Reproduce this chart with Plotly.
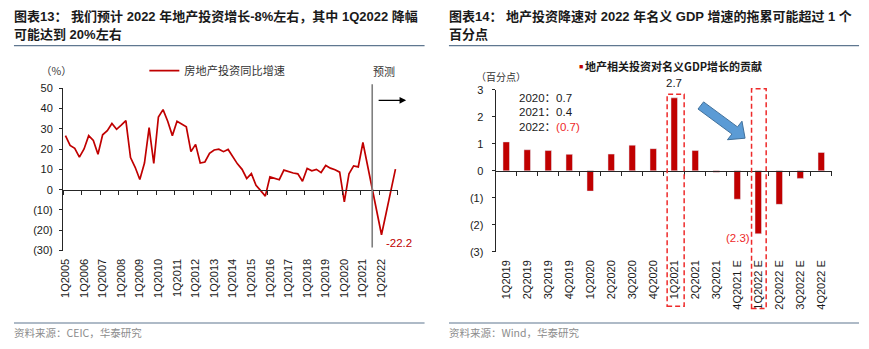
import plotly.graph_objects as go

W, H = 869, 349


def px(x):
    return x / W


def py(y):
    return 1 - y / H


# ---------------- data: left chart (quarterly real-estate investment YoY, %) ----------------
years = list(range(2005, 2023))
quarters = [f"{q}Q{y}" for y in years for q in range(1, 5)]
growth = [
    26.6, 21.8, 20.3, 16.0,   # 2005
    20.0, 26.6, 24.2, 17.4,   # 2006
    27.0, 29.0, 32.6, 29.7,   # 2007
    31.8, 34.0, 15.8, 11.0,   # 2008
    5.0, 13.1, 30.5, 12.9,    # 2009
    35.8, 39.4, 33.7, 26.6,   # 2010
    33.7, 32.1, 30.9, 18.7,   # 2011
    22.3, 13.1, 13.6, 17.9,   # 2012
    19.5, 19.9, 18.7, 19.8,   # 2013
    16.3, 12.7, 10.0, 5.5,    # 2014
    7.9, 2.1, -0.5, -3.2,     # 2015
    6.3, 5.6, 4.9, 9.6,       # 2016
    8.8, 8.2, 7.8, 4.1,       # 2017
    10.4, 9.3, 10.0, 8.4,     # 2018
    11.9, 10.6, 9.8, 8.6,     # 2019
    -6.0, 7.8, 11.7, 11.2,    # 2020
    23.2, 11.9, 0.4, -10.9,   # 2021
    -22.2, -11.5, -0.7, 10.1, # 2022
]
year_tick_labels = [f"1Q{y}" for y in years]
left_ytick_vals = [-30, -20, -10, 0, 10, 20, 30, 40, 50]
left_ytick_text = ["(30)", "(20)", "(10)", "0", "10", "20", "30", "40", "50"]
forecast_boundary = "3Q2021"
trough_quarter = "1Q2022"
series_name = "房地产投资同比增速"

# ---------------- data: right chart (contribution to nominal GDP growth, ppt) ----------------
bar_quarters = [
    "1Q2019", "2Q2019", "3Q2019", "4Q2019",
    "1Q2020", "2Q2020", "3Q2020", "4Q2020",
    "1Q2021", "2Q2021", "3Q2021", "4Q2021 E",
    "1Q2022 E", "2Q2022 E", "3Q2022 E", "4Q2022 E",
]
contribution = [1.07, 0.78, 0.75, 0.61, -0.75, 0.62, 0.95, 0.82,
                2.70, 0.75, -0.05, -1.05, -2.33, -1.24, -0.28, 0.68]
right_ytick_vals = [-3, -2, -1, 0, 1, 2, 3]
right_ytick_text = ["(3)", "(2)", "(1)", "0", "1", "2", "3"]
annual_years = ["2020", "2021", "2022"]
annual_values = ["0.7", "0.4", "(0.7)"]
peak_bar = "1Q2021"
low_bar = "1Q2022 E"
bar_name = "地产相关投资对名义GDP增长的贡献"

# ---------------- styles ----------------
LAT = "Liberation Sans, Arial, Noto Sans CJK SC, sans-serif"
CJK = "Noto Sans CJK SC, Liberation Sans, sans-serif"
DARK_RED = "#C00000"
BRIGHT_RED = "#EE2A2A"
AXIS_COL = "#262626"
TXT = "#1a1a1a"
SEP = "#5f7790"

# domains (pixel-based)
L_X0, L_X1 = 59.4, 395.6
L_YT, L_YB = 85.0, 253.3
R_X0, R_X1 = 494.0, 831.6
R_YT, R_YB = 86.7, 254.7

l_dom_y = [py(L_YB), py(L_YT)]
r_dom_y = [py(R_YB), py(R_YT)]
l_zero = l_dom_y[0] + (0 - (-30)) / 80 * (l_dom_y[1] - l_dom_y[0])
r_zero = r_dom_y[0] + (0 - (-3)) / 6 * (r_dom_y[1] - r_dom_y[0])

fig = go.Figure()

fig.add_trace(go.Scatter(
    x=quarters, y=growth, mode="lines", name=series_name,
    line=dict(color=DARK_RED, width=1.7), xaxis="x", yaxis="y",
    showlegend=True, hoverinfo="skip"))
fig.add_trace(go.Bar(
    x=bar_quarters, y=contribution, name=bar_name, marker_color=DARK_RED,
    width=0.31, xaxis="x2", yaxis="y2", showlegend=False, hoverinfo="skip"))
# empty traces so the zero-line tick axes get drawn
fig.add_trace(go.Scatter(x=[], y=[], xaxis="x3", yaxis="y", showlegend=False))
fig.add_trace(go.Scatter(x=[], y=[], xaxis="x4", yaxis="y2", showlegend=False))

tickfont = dict(family=LAT, size=11, color=TXT)

fig.update_layout(
    width=W, height=H, margin=dict(l=0, r=0, t=0, b=0),
    paper_bgcolor="white", plot_bgcolor="rgba(0,0,0,0)",
    showlegend=True,
    legend=dict(x=px(141), y=py(67), xanchor="left", yanchor="middle",
                font=dict(family=CJK, size=11.2, color="#333333"),
                bgcolor="rgba(0,0,0,0)", borderwidth=0, itemwidth=30),
    xaxis=dict(domain=[px(L_X0), px(L_X1)], anchor="y", type="category",
               categoryarray=quarters, range=[-0.5, len(quarters) - 0.5],
               tickmode="array", tickvals=year_tick_labels, ticktext=year_tick_labels,
               tickangle=-90, ticks="", showline=False, showgrid=False, zeroline=False,
               tickfont=tickfont, ticklabelstandoff=5),
    xaxis3=dict(overlaying="x", anchor="free", position=l_zero, type="linear",
                range=[-0.5, len(quarters) - 0.5],
                tickmode="array", tickvals=[-0.5 + 4 * k for k in range(len(years) + 1)],
                ticks="outside", ticklen=4, tickwidth=1, tickcolor=AXIS_COL,
                showticklabels=False, showline=True, linecolor=AXIS_COL, linewidth=1.3,
                showgrid=False, zeroline=False),
    yaxis=dict(domain=l_dom_y, anchor="x", range=[-30, 50],
               tickmode="array", tickvals=left_ytick_vals, ticktext=left_ytick_text,
               ticks="outside", ticklen=3, tickwidth=1, tickcolor=AXIS_COL,
               showline=True, linecolor=AXIS_COL, linewidth=1.3,
               showgrid=False, zeroline=False, tickfont=tickfont, ticklabelstandoff=4),
    xaxis2=dict(domain=[px(R_X0), px(R_X1)], anchor="y2", type="category",
                categoryarray=bar_quarters, range=[-0.5, len(bar_quarters) - 0.5],
                tickangle=-90, ticks="", showline=False, showgrid=False, zeroline=False,
                tickfont=tickfont, ticklabelstandoff=5),
    xaxis4=dict(overlaying="x2", anchor="free", position=r_zero, type="linear",
                range=[-0.5, len(bar_quarters) - 0.5],
                tickmode="array", tickvals=[-0.5 + k for k in range(len(bar_quarters) + 1)],
                ticks="outside", ticklen=4, tickwidth=1, tickcolor=AXIS_COL,
                showticklabels=False, showline=True, linecolor=AXIS_COL, linewidth=1.3,
                showgrid=False, zeroline=False),
    yaxis2=dict(domain=r_dom_y, anchor="x2", range=[-3, 3],
                tickmode="array", tickvals=right_ytick_vals, ticktext=right_ytick_text,
                ticks="outside", ticklen=3, tickwidth=1, tickcolor=AXIS_COL,
                showline=True, linecolor=AXIS_COL, linewidth=1.3,
                showgrid=False, zeroline=False, tickfont=tickfont, ticklabelstandoff=6),
)

ann = []
title_font = dict(family=LAT, size=13, color=TXT, weight="bold")


def add_text(text, x, y, font, xanchor="left", yanchor="middle"):
    ann.append(dict(text=text, x=px(x), y=py(y), xref="paper", yref="paper",
                    xanchor=xanchor, yanchor=yanchor, showarrow=False, font=font))


add_text("<b>图表13： 我们预计 2022 年地产投资增长-8%左右，其中 1Q2022 降幅</b>", 8, 11, title_font)
add_text("<b>可能达到 20%左右</b>", 8, 29.5, title_font)
add_text("<b>图表14： 地产投资降速对 2022 年名义 GDP 增速的拖累可能超过 1 个</b>", 445, 11, title_font)
add_text("<b>百分点</b>", 445, 29.5, title_font)

small_cjk = dict(family=CJK, size=10.5, color="#333333")
add_text("（%）", 35, 67, small_cjk)
add_text("预测", 369, 67, dict(family=CJK, size=11, color="#333333"))
add_text("（百分点）", 472, 72.7, dict(family=CJK, size=10, color="#333333"))

src_font = dict(family=CJK, size=10.5, color="#8c8c8c")
add_text("资料来源：CEIC，华泰研究", 8, 338, src_font)
add_text("资料来源：Wind，华泰研究", 445, 338, src_font)

# right legend (symbol + label)
add_text("■", 575.5, 62.5, dict(family=LAT, size=7, color=DARK_RED))
add_text(f"<b>{bar_name}</b>", 582, 62.5, dict(family=CJK, size=11, color=TXT, weight="bold"))

# annual notes
note_font = dict(family=LAT, size=11.5, color=TXT)
for i, (yr, val) in enumerate(zip(annual_years, annual_values)):
    col = BRIGHT_RED if val.startswith("(") else TXT
    add_text(f"{yr}：<span style='color:{col}'>{val}</span>", 515.5, 95 + 15 * i, note_font)

# forecast arrow (left)
ann.append(dict(text="", x=px(404), y=py(97.7), xref="paper", yref="paper",
                ax=-29, ay=0, showarrow=True, arrowhead=2, arrowsize=1.1,
                arrowwidth=1.2, arrowcolor="#000000"))

# trough label on the line
trough_val = growth[quarters.index(trough_quarter)]
ann.append(dict(text=f"{trough_val:.1f}", x=trough_quarter, y=trough_val, xref="x", yref="y",
                xanchor="left", yanchor="middle", xshift=2, yshift=-8, showarrow=False,
                font=dict(family=LAT, size=11.5, color=DARK_RED)))

# bar labels
peak_val = contribution[bar_quarters.index(peak_bar)]
ann.append(dict(text=f"{peak_val:.1f}", x=peak_bar, y=peak_val, xref="x2", yref="y2",
                xanchor="center", yanchor="bottom", yshift=7, showarrow=False,
                font=dict(family=LAT, size=11.5, color=TXT)))
low_val = contribution[bar_quarters.index(low_bar)]
ann.append(dict(text=f"({abs(low_val):.1f})", x=low_bar, y=low_val, xref="x2", yref="y2",
                xanchor="center", yanchor="middle", xshift=-20.5, yshift=-4, showarrow=False,
                font=dict(family=LAT, size=11.5, color=BRIGHT_RED)))

fig.update_layout(annotations=ann)

shapes = []
# separators
for x0, x1 in [(10, 422.5), (447, 859)]:
    shapes.append(dict(type="line", xref="paper", yref="paper", x0=px(x0), x1=px(x1),
                       y0=py(41), y1=py(41), line=dict(color=SEP, width=1.2)))
    shapes.append(dict(type="line", xref="paper", yref="paper", x0=px(x0), x1=px(x1),
                       y0=py(328.3), y1=py(328.3), line=dict(color=SEP, width=1.2)))

# forecast boundary line
shapes.append(dict(type="line", xref="x", yref="paper", x0=forecast_boundary, x1=forecast_boundary,
                   y0=py(250), y1=py(81), line=dict(color="#7f7f7f", width=1.6)))

# dashed highlight boxes
for (x0, x1, y0, y1) in [(666.2, 683.3, 91.5, 311.0), (751.0, 765.7, 85.7, 313.3)]:
    shapes.append(dict(type="rect", xref="paper", yref="paper", x0=px(x0), x1=px(x1),
                       y0=py(y1), y1=py(y0), line=dict(color=BRIGHT_RED, width=1.5, dash="5px,3px"),
                       fillcolor="rgba(0,0,0,0)"))

# blue block arrow
pts = [(702.8, 99.3), (736.9, 125.2), (741.4, 119.3), (744.5, 136.9),
       (726.8, 138.5), (731.3, 132.6), (697.2, 106.7)]
path = "M " + " L ".join(f"{px(x):.5f},{py(y):.5f}" for x, y in pts) + " Z"
shapes.append(dict(type="path", xref="paper", yref="paper", path=path,
                   fillcolor="#5B9BD5", line=dict(color="#41719C", width=1)))

fig.update_layout(shapes=shapes)

fig.write_html("out.html")
